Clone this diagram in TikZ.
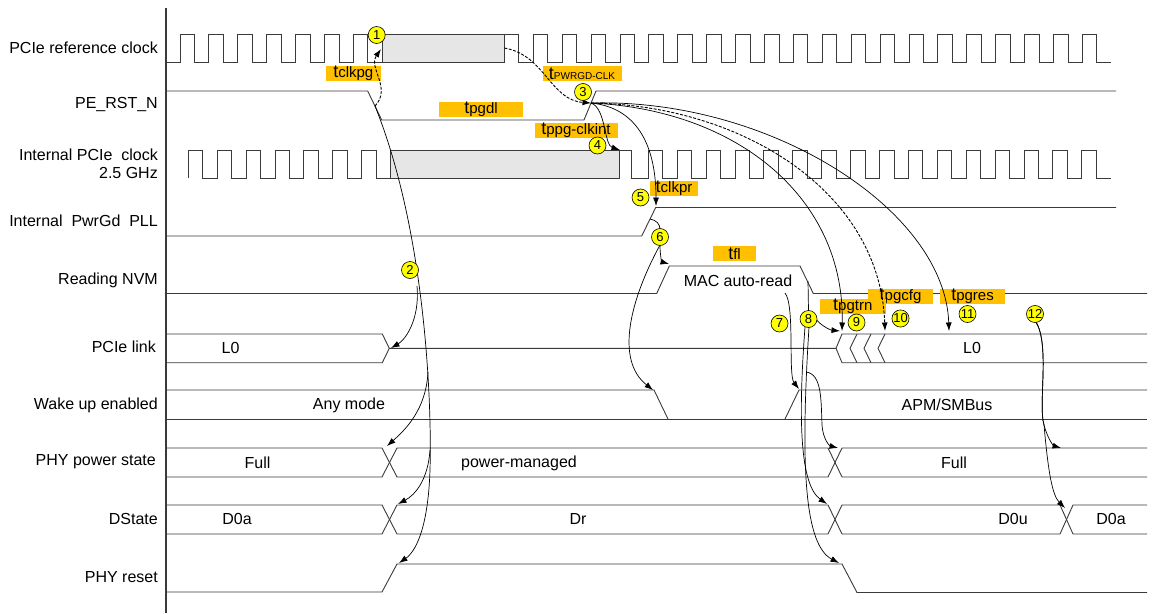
\documentclass[tikz,border=0pt]{standalone}
\usepackage{fontspec}
\setmainfont{Liberation Sans}
\usetikzlibrary{arrows.meta}

\definecolor{tlabelfill}{HTML}{FFC000}
\definecolor{markfill}{HTML}{FFFF00}
\definecolor{gapfill}{HTML}{E6E6E6}
\definecolor{wavecol}{HTML}{3A3A3A}

\tikzset{
  wave/.style={draw=wavecol, line width=0.9pt},
  siglabel/.style={anchor=east, inner sep=0pt, align=right, font=\fontsize{16}{17.5}\selectfont},
  statetext/.style={inner sep=0pt, font=\fontsize{16}{17.5}\selectfont},
  tlabel/.style={fill=tlabelfill, inner sep=0pt, minimum height=14.7pt, font=\fontsize{15}{15}\selectfont},
  stepmark/.style={circle, draw=black, line width=0.6pt, fill=markfill, minimum size=17pt, inner sep=0pt, font=\fontsize{13}{13}\selectfont},
  conn/.style={draw=black, line width=0.7pt, -{Latex[length=8.5pt,width=6pt]}},
  dconn/.style={conn, dash pattern=on 3pt off 1.5pt, line width=0.9pt},
  tie/.style={draw=black, line width=0.7pt},
}
\newcommand{\tchar}{{\fontsize{18}{18}\selectfont t}}

\begin{document}
\begin{tikzpicture}[x=1pt,y=-1pt]
\useasboundingbox (0,0) rectangle (1153,613);

% Time axis
\draw[draw=wavecol, line width=1.1pt] (166,8) -- (166,613);

% Signal names
\node[siglabel] (lref) at (158,48) {PCIe reference clock};
\node[siglabel] (lrst) at (158,105) {PE\_RST\_N};
\node[siglabel] (lint) at (158,164) {Internal PCIe\ \ clock\\2.5 GHz};
\node[siglabel] (lpll) at (158,221) {Internal\ \ PwrGd\ \ PLL};
\node[siglabel] (lnvm) at (158,280) {Reading NVM};
\node[siglabel] (llink) at (156,347) {PCIe link};
\node[siglabel] (lwake) at (158,405) {Wake up enabled};
\node[siglabel] (lphy) at (156,462) {PHY power state};
\node[siglabel] (ldst) at (158,519) {DState};
\node[siglabel] (lphyr) at (158,577) {PHY reset};

% PCIe reference clock
\draw[wave] (166,62) -- (180,62) foreach \k in {0,...,6} { -- ++(0,-28) -- ++(14.45,0) -- ++(0,28) -- ++(14.45,0) };
\draw[wave, fill=gapfill] (382.3,34) rectangle (504.3,62);
\draw[wave] (504.3,34) -- (518.3,34) -- (518.3,62) -- (533.3,62) foreach \k in {0,...,19} { -- ++(0,-28) -- ++(14.45,0) -- ++(0,28) -- ++(14.45,0) };

% PE_RST_N
\draw[wave] (166,91) -- (367.7,91) -- (381.7,120) -- (584,120) -- (596,91) -- (1116,91);

% Internal PCIe clock
\draw[wave] (188.3,178) foreach \k in {0,...,6} { -- ++(0,-28) -- ++(14.45,0) -- ++(0,28) -- ++(14.45,0) };
\draw[wave, fill=gapfill] (390.6,150) rectangle (619.3,178);
\draw[wave] (619.3,150) -- (631.7,150) -- (631.7,178) -- (648.3,178) foreach \k in {0,...,15} { -- ++(0,-28) -- ++(14.45,0) -- ++(0,28) -- ++(14.45,0) };

% Internal PwrGd PLL
\draw[wave] (166,236) -- (641.7,236) -- (655.7,207.5) -- (1116,207.5);

% Reading NVM
\draw[wave] (166,293.5) -- (656.7,293.5) -- (669.3,266) -- (800,266) -- (813.3,293.5) -- (1147,293.5);

% PCIe link
\draw[wave] (166,334) -- (382.3,334) -- (389.3,348.3) -- (382.3,362.7) -- (166,362.7);
\draw[wave] (389.3,348.3) -- (836,348.3) -- (842,334) -- (1147,334);
\draw[wave] (836,348.3) -- (842,362.7) -- (1147,362.7);
\foreach \c in {850,864,878}
  \draw[wave] (\c+7,334) -- (\c,348.3) -- (\c+7,362.7);

% Wake up enabled
\draw[wave] (166,390) -- (654,390) -- (668,419);
\draw[wave] (166,419) -- (1147,419);
\draw[wave] (785,419) -- (799,390) -- (1147,390);

% PHY power state
\draw[wave] (166,448) -- (382,448) -- (397,477) -- (828,477) -- (842,448) -- (1147,448);
\draw[wave] (166,477) -- (382,477) -- (397,448) -- (828,448) -- (842,477) -- (1147,477);

% DState
\draw[wave] (166,505) -- (382,505) -- (397,534) -- (828,534) -- (842,505) -- (1060,505) -- (1073,534) -- (1147,534);
\draw[wave] (166,534) -- (382,534) -- (397,505) -- (828,505) -- (842,534) -- (1060,534) -- (1073,505) -- (1147,505);

% PHY reset
\draw[wave] (166,592) -- (382,592) -- (397,564) -- (842,564) -- (857,592.5) -- (1147,592.5);

% State texts
\node[statetext] (sl0a) at (230.5,348) {L0};
\node[statetext] (sany) at (349,405) {Any mode};
\node[statetext] (sfulla) at (257.5,463) {Full};
\node[statetext] (spm) at (519,463) {power-managed};
\node[statetext] (sd0a) at (237,519) {D0a};
\node[statetext] (sdr) at (578,519) {Dr};
\node[statetext] (smac) at (738,281) {MAC auto-read};
\node[statetext] (sl0b) at (972,348) {L0};
\node[statetext] (sapm) at (947,405) {APM/SMBus};
\node[statetext] (sfullb) at (954,463) {Full};
\node[statetext] (sd0u) at (1013,519) {D0u};
\node[statetext] (sd0b) at (1111,519) {D0a};

% Timing labels
\node[tlabel, minimum width=54.7pt] (tclkpg) at (353.3,73.3) {\tchar clkpg};
\node[tlabel, minimum width=83.4pt] (tpgdl) at (481,109.3) {\tchar pgdl};
\node[tlabel, minimum width=79pt] (tpwrgd) at (582,73.3) {\tchar{\fontsize{10}{10}\selectfont PWRGD-CLK}};
\node[tlabel, minimum width=83pt] (tppg) at (576,130.5) {\tchar ppg-clkint};
\node[tlabel, minimum width=48.3pt] (tclkpr) at (674,188.7) {\tchar clkpr};
\node[tlabel, minimum width=42.4pt] (tfl) at (734.5,253.7) {\tchar fl};
\node[tlabel, minimum width=64.4pt] (tpgcfg) at (900.5,296.2) {\tchar pgcfg};
\node[tlabel, minimum width=65.7pt] (tpgtrn) at (852.8,306.2) {\tchar pgtrn};
\node[tlabel, minimum width=65pt] (tpgres) at (972.5,296.2) {\tchar pgres};

% Points on the waveforms
\coordinate (rstfall) at (375,106);
\coordinate (rstrise) at (591,103);
\coordinate (refgap) at (381,49);
\coordinate (refgapend) at (504.3,48);
\coordinate (intgapend) at (620,150);
\coordinate (pllhi) at (656,206);
\coordinate (pllmid) at (650,219);
\coordinate (nvmhi) at (669,264);
\coordinate (nvmlo) at (785,293);
\coordinate (nvmfall) at (808,281);
\coordinate (wakefall) at (653,390);
\coordinate (wakerise) at (799,389);
\coordinate (linkin) at (391,348);
\coordinate (linktrn) at (842,331);
\coordinate (linkcfg) at (885,331);
\coordinate (linkres) at (949,331);
\coordinate (linkarm) at (840,331);
\coordinate (phyin) at (387,446);
\coordinate (dstin) at (398,504);
\coordinate (phyrin) at (399,563);
\coordinate (phyout) at (838,448);
\coordinate (dstout) at (827,504);
\coordinate (phyrout) at (839,563);
\coordinate (phyfull) at (1061,448);
\coordinate (dstd0a) at (1065,508);

% Where the connectors meet the step markers
\coordinate (sixin) at (660,229);
\coordinate (sixout) at (660,245);
\coordinate (eightin) at (808.5,311);
\coordinate (eightout) at (816.5,320);
\coordinate (twelveout) at (1036,322);

% Step 1 and 3: reference clock
\draw[dconn] (rstfall) .. controls (392,88) and (368,68) .. (refgap);
\draw[dconn] (refgapend) .. controls (545,55) and (550,100) .. (rstrise);

% Step 2: PE_RST_N asserted
\draw[conn] (rstfall) .. controls (425,230) and (432,400) .. (430,470) .. controls (428,530) and (415,552) .. (phyrin);
\draw[conn] (417,286) .. controls (420,320) and (405,340) .. (linkin);
\draw[conn] (428,372) .. controls (426,410) and (405,430) .. (phyin);
\draw[conn] (430,450) .. controls (428,480) and (415,495) .. (dstin);

% Step 3 to 5, 9 to 11: PE_RST_N released
\draw[conn] (rstrise) .. controls (606,108) and (604,145) .. (intgapend);
\draw[conn] (rstrise) .. controls (640,108) and (656,150) .. (pllhi);
\draw[conn] (rstrise) .. controls (740,110) and (845,200) .. (linktrn);
\draw[dconn] (rstrise) .. controls (740,105) and (880,190) .. (linkcfg);
\draw[conn] (rstrise) .. controls (770,98) and (945,210) .. (linkres);

% Step 6: PLL locked
\draw[tie] (pllmid) .. controls (656,220) and (660,224) .. (sixin);
\draw[conn] (sixout) .. controls (660,256) and (662,262) .. (nvmhi);
\draw[conn] (sixout) .. controls (630,300) and (615,360) .. (wakefall);

% Step 7: auto-read done
\draw[conn] (nvmlo) .. controls (795,305) and (788,375) .. (wakerise);

% Step 8: power-up of the PHY
\draw[tie] (nvmfall) -- (eightin);
\draw[conn] (eightout) .. controls (822,326) and (830,330) .. (linkarm);
\draw[conn] (805,327) .. controls (798,420) and (800,485) .. (dstout);
\draw[conn] (809,327) .. controls (800,470) and (805,545) .. (phyrout);
\draw[conn] (806,372) .. controls (822,374) and (821,400) .. (822,425) .. controls (823,440) and (830,446) .. (phyout);

% Step 12: back to D0a
\draw[conn] (twelveout) .. controls (1050,345) and (1038,405) .. (1044,425) .. controls (1048,440) and (1054,446) .. (phyfull);
\draw[conn] (twelveout) .. controls (1050,345) and (1038,405) .. (1044,425) .. controls (1048,470) and (1052,495) .. (dstd0a);

% Step markers
\node[stepmark] (m1) at (376.7,35) {1};
\node[stepmark] (m2) at (410,270) {2};
\node[stepmark] (m3) at (583,92) {3};
\node[stepmark] (m4) at (597.5,145.5) {4};
\node[stepmark] (m5) at (640.5,197.5) {5};
\node[stepmark] (m6) at (660,237) {6};
\node[stepmark] (m7) at (779.5,323.5) {7};
\node[stepmark] (m8) at (808.5,319) {8};
\node[stepmark] (m9) at (856.5,322.5) {9};
\node[stepmark] (m10) at (900.5,318.5) {10};
\node[stepmark] (m11) at (967.5,314) {11};
\node[stepmark] (m12) at (1035,314) {12};

\end{tikzpicture}
\end{document}
